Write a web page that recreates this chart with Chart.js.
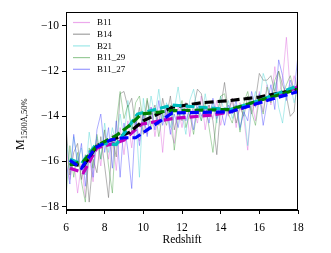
<!DOCTYPE html>
<html>
<head>
<meta charset="utf-8">
<script src="https://cdn.jsdelivr.net/npm/chart.js@4"></script>
<style>
  body { margin: 0; background: #fff; }
</style>
</head>
<body>
<canvas id="uvChart" width="331" height="253"></canvas>
<script>
// redshift grid of the noisy per-run curves
const redshift = [6.0, 6.2, 6.4, 6.6, 6.8, 7.0, 7.2, 7.4, 7.6, 7.8, 8.0, 8.2, 8.4, 8.6, 8.8, 9.0, 9.2, 9.4, 9.6, 9.8,
  10.0, 10.2, 10.4, 10.6, 10.8, 11.0, 11.2, 11.4, 11.6, 11.8, 12.0, 12.2, 12.4, 12.6, 12.8, 13.0, 13.2, 13.4, 13.6, 13.8,
  14.0, 14.2, 14.4, 14.6, 14.8, 15.0, 15.2, 15.4, 15.6, 15.8, 16.0, 16.2, 16.4, 16.6, 16.8, 17.0, 17.2, 17.4, 17.6, 17.8, 18.0];

const b11 = [-15.2, -16.8, -15.9, -17.4, -16.1, -17.6, -15.8, -16.9, -15.0, -16.2, -14.6, -15.9, -14.8, -16.4, -14.5, -15.7, -14.2, -15.4, -14.0, -15.1,
  -13.9, -14.8, -13.6, -14.9, -13.8, -15.6, -13.5, -14.6, -15.2, -13.6, -14.5, -13.4, -14.9, -13.7, -14.3, -13.1, -14.6, -13.5, -14.1, -13.3,
  -14.4, -13.6, -14.0, -13.2, -14.5, -13.4, -14.1, -15.5, -13.3, -14.2, -12.9, -13.8, -12.6, -13.5, -11.8, -13.1, -12.4, -10.5, -12.9, -12.2, -13.0];
const b14 = [-14.4, -16.6, -15.6, -15.2, -16.8, -15.7, -17.8, -15.9, -16.5, -14.9, -16.2, -17.6, -15.0, -15.8, -13.0, -12.9, -13.6, -13.2, -14.5, -13.6,
  -14.8, -13.3, -14.1, -13.5, -14.4, -13.2, -14.0, -13.1, -14.6, -13.8, -14.2, -13.4, -14.0, -13.6, -12.8, -13.0, -13.9, -13.5, -14.2, -15.7,
  -13.6, -12.5, -13.8, -13.2, -14.3, -13.6, -14.0, -13.1, -13.9, -13.3, -12.1, -12.4, -12.4, -12.2, -12.9, -12.0, -12.6, -13.1, -14.0, -13.8, -12.0];
const b21 = [-15.0, -16.3, -14.9, -16.0, -15.4, -16.6, -14.7, -15.8, -14.9, -15.9, -14.3, -15.6, -14.5, -15.3, -13.9, -15.0, -13.3, -14.6, -13.9, -16.7,
  -13.2, -14.4, -13.1, -14.0, -12.8, -14.2, -13.4, -14.5, -13.7, -12.7, -13.9, -14.8, -13.3, -12.8, -13.8, -14.2, -13.0, -14.0, -13.4, -14.3,
  -13.1, -13.9, -13.3, -14.1, -13.5, -14.6, -13.7, -15.3, -13.6, -12.9, -13.5, -12.1, -12.6, -13.2, -12.5, -13.6, -14.3, -13.0, -12.6, -13.4, -12.7];
const b11_29 = [-17.6, -15.3, -16.7, -15.6, -16.9, -17.8, -15.4, -16.3, -14.8, -15.9, -14.6, -16.2, -17.4, -14.3, -12.9, -14.1, -13.5, -14.7, -13.4, -13.1,
  -14.3, -13.2, -14.6, -13.7, -14.9, -13.9, -14.4, -13.5, -15.5, -14.1, -13.3, -14.5, -13.9, -14.8, -13.6, -14.2, -13.4, -14.5, -15.6, -14.0,
  -13.1, -13.0, -13.9, -14.3, -13.5, -14.7, -13.4, -12.9, -13.8, -14.4, -13.2, -13.9, -12.7, -13.4, -12.4, -12.0, -13.1, -12.6, -12.2, -12.9, -12.5];
const b11_27 = [-16.0, -17.0, -14.8, -16.2, -15.2, -17.1, -15.5, -16.7, -14.6, -13.9, -15.6, -14.5, -16.3, -14.2, -16.7, -14.3, -15.5, -17.2, -14.1, -15.3,
  -13.9, -14.9, -13.6, -14.6, -13.3, -14.4, -13.6, -14.8, -13.9, -14.5, -13.5, -14.2, -13.7, -14.6, -13.4, -14.0, -13.6, -14.3, -13.2, -14.1,
  -13.7, -14.4, -13.5, -13.9, -13.3, -14.5, -13.8, -14.2, -12.9, -13.6, -13.0, -14.4, -13.4, -12.6, -13.7, -11.5, -12.2, -13.3, -12.4, -12.9, -11.3];

// smoothed medians (thick dashed)
const medZ_b11 = [6.2, 6.9, 7.6, 8.5, 9.0, 9.9, 11.5, 13.5, 14.5, 16.0, 18.0];
const med_b11 = [-16.3, -16.5, -15.4, -15.2, -15.05, -14.35, -14.1, -13.95, -13.8, -13.4, -12.7];
const medZ_b14 = [6.2, 6.9, 7.6, 8.5, 9.3, 10.0, 11.5, 13.0, 14.5, 16.0, 18.0];
const med_b14 = [-16.1, -16.2, -15.3, -15.0, -14.7, -14.2, -13.6, -13.4, -13.3, -13.15, -12.8];
const medZ_b21 = [6.2, 6.8, 7.5, 8.0, 8.6, 9.7, 11.5, 14.5, 16.0, 18.0];
const med_b21 = [-15.9, -16.1, -15.3, -15.2, -15.25, -13.9, -13.5, -13.7, -13.3, -12.65];
const medZ_b11_29 = [6.2, 6.9, 7.6, 8.6, 9.3, 9.9, 11.5, 14.5, 16.0, 18.0];
const med_b11_29 = [-16.15, -16.0, -15.3, -14.85, -14.4, -13.9, -13.75, -13.7, -13.3, -12.8];
const medZ_b11_27 = [6.2, 6.8, 7.5, 8.3, 9.0, 9.6, 10.2, 11.5, 14.5, 16.0, 18.0];
const med_b11_27 = [-15.95, -16.3, -15.4, -15.05, -14.95, -14.95, -14.6, -13.85, -13.8, -13.4, -12.9];

const labels = ["B11", "B14", "B21", "B11_29", "B11_27"];
const yTicks = [-18, -16, -14, -12, -10];

const thinColors = ["rgba(224,112,224,0.6)", "rgba(110,110,110,0.65)", "rgba(90,215,215,0.6)", "rgba(70,160,70,0.55)", "rgba(70,70,255,0.55)"];
const dashColors = ["#bf00bf", "#000000", "#00bfbf", "#008000", "#0000ff"];

const serif = "'Liberation Serif', 'DejaVu Serif', serif";

function pts(xs, ys) {
  return xs.map((x, i) => ({ x: x, y: ys[i] }));
}

const thinSeries = [b11, b14, b21, b11_29, b11_27];
const medSeries = [[medZ_b11, med_b11], [medZ_b14, med_b14], [medZ_b21, med_b21], [medZ_b11_29, med_b11_29], [medZ_b11_27, med_b11_27]];

const datasets = [];
thinSeries.forEach((s, i) => {
  datasets.push({
    label: labels[i],
    data: pts(redshift, s),
    borderColor: thinColors[i],
    borderWidth: 0.8,
    pointRadius: 0,
    tension: 0,
    order: 20 - i
  });
});
medSeries.forEach((m, i) => {
  datasets.push({
    label: labels[i] + " median",
    data: pts(m[0], m[1]),
    borderColor: dashColors[i],
    borderWidth: 3.2,
    borderDash: [9, 4],
    pointRadius: 0,
    tension: 0,
    order: 10 - i
  });
});

// frame, legend and the y label with its subscript
const extras = {
  id: "extras",
  afterDraw(chart) {
    const ctx = chart.ctx;
    const a = chart.chartArea;
    ctx.save();
    ctx.strokeStyle = "#000";
    ctx.lineWidth = 1;
    ctx.strokeRect(a.left + 0.5, a.top + 0.5, a.right - a.left - 1, a.bottom - a.top - 1);

    ctx.font = "9px " + serif;
    ctx.textBaseline = "middle";
    labels.forEach((lab, i) => {
      const y = 22.5 + i * 11.7;
      ctx.strokeStyle = thinColors[i];
      ctx.lineWidth = 1.2;
      ctx.beginPath();
      ctx.moveTo(73, y);
      ctx.lineTo(90, y);
      ctx.stroke();
      ctx.fillStyle = "#000";
      ctx.fillText(lab, 97, y + 0.5);
    });

    ctx.translate(24, 150);
    ctx.rotate(-Math.PI / 2);
    ctx.fillStyle = "#000";
    ctx.textBaseline = "alphabetic";
    ctx.font = "12px " + serif;
    ctx.fillText("M", 0, 0);
    const w = ctx.measureText("M").width;
    ctx.font = "8.5px " + serif;
    ctx.fillText("1500Å,50%", w, 3);
    ctx.restore();
  }
};

new Chart(document.getElementById("uvChart").getContext("2d"), {
  type: "line",
  data: { datasets: datasets },
  options: {
    responsive: false,
    devicePixelRatio: 1,
    animation: false,
    layout: { padding: { top: 12, right: 33, left: 0, bottom: 0 } },
    plugins: { legend: { display: false }, tooltip: { enabled: false } },
    scales: {
      x: {
        type: "linear",
        min: 6,
        max: 18,
        afterFit: (s) => { s.height = 43; },
        ticks: { stepSize: 2, color: "#000", font: { family: serif, size: 11.5 }, padding: 7, maxRotation: 0 },
        grid: { drawOnChartArea: false, drawTicks: true, tickLength: 4, color: "#000" },
        border: { display: true, color: "#000", width: 1 },
        title: { display: true, text: "Redshift", color: "#000", font: { family: serif, size: 11.5 }, padding: { top: 0, bottom: 6 } }
      },
      y: {
        type: "linear",
        min: -18.15,
        max: -9.38,
        afterFit: (s) => { s.width = 66; },
        afterBuildTicks: (s) => { s.ticks = yTicks.map(v => ({ value: v })); },
        ticks: {
          color: "#000",
          font: { family: serif, size: 11.5 },
          padding: 3,
          callback: (v) => String(v).replace("-", "\u2212")
        },
        grid: { drawOnChartArea: false, drawTicks: true, tickLength: 4, color: "#000" },
        border: { display: true, color: "#000", width: 1 }
      }
    }
  },
  plugins: [extras]
});
</script>
</body>
</html>
